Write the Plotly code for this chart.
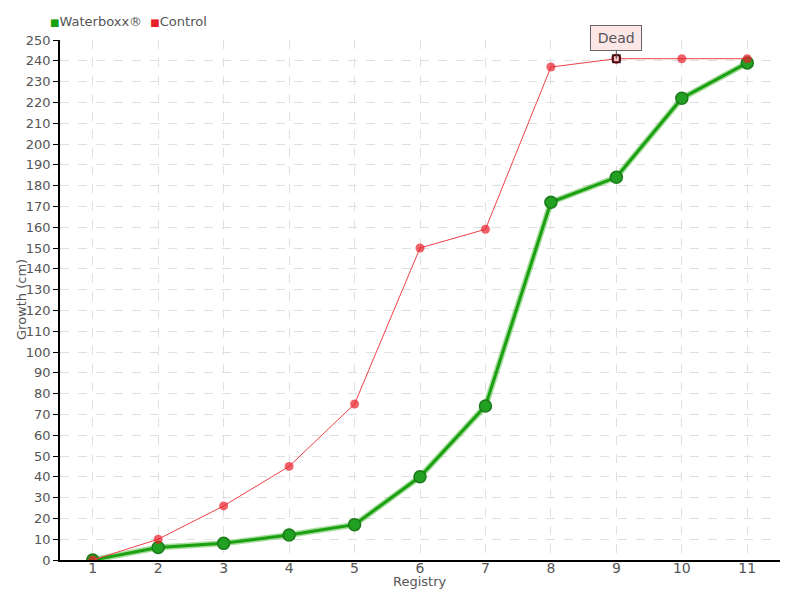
import plotly.graph_objects as go

registry = [1, 2, 3, 4, 5, 6, 7, 8, 9, 10, 11]
waterboxx = [0, 6, 8, 12, 17, 40, 74, 172, 184, 222, 239]
control = [0, 10, 26, 45, 75, 150, 159, 237, 241, 241, 241]
y_ticks = list(range(0, 251, 10))
dead_index = 8
dead_label = "Dead"
series_names = ["Waterboxx®", "Control"]
x_title = "Registry"
y_title = "Growth (cm)"

FONT = "DejaVu Sans, sans-serif"
GREY = "#555555"
GREEN = "#1aa010"
RED = "#e8202a"

ctrl_symbols = ["circle"] * len(registry)
ctrl_symbols[dead_index] = "square"
ctrl_colors = [RED] * len(registry)
ctrl_colors[dead_index] = "white"
ctrl_line_colors = [RED] * len(registry)
ctrl_line_colors[dead_index] = "black"
ctrl_sizes = [9] * len(registry)
ctrl_sizes[dead_index] = 7
ctrl_lw = [0] * len(registry)
ctrl_lw[dead_index] = 2

fig = go.Figure()
# halo for green line
fig.add_trace(go.Scatter(
    x=registry, y=waterboxx, mode="lines",
    line=dict(color="rgba(60,180,40,0.45)", width=6),
    showlegend=False, hoverinfo="skip"))
fig.add_trace(go.Scatter(
    x=registry, y=waterboxx, mode="lines+markers", name=series_names[0],
    line=dict(color=GREEN, width=3), showlegend=False,
    marker=dict(size=12, color="#22a022", symbol="circle",
                line=dict(color="#1a7a1a", width=1.5))))
# red circle behind the dead marker
fig.add_trace(go.Scatter(
    x=[registry[dead_index]], y=[control[dead_index]], mode="markers",
    marker=dict(size=10, color=RED), showlegend=False, hoverinfo="skip"))
fig.add_trace(go.Scatter(
    x=registry, y=control, mode="lines+markers", name=series_names[1],
    line=dict(color="#f0404a", width=1), showlegend=False,
    marker=dict(size=ctrl_sizes, color=ctrl_colors, symbol=ctrl_symbols,
                line=dict(color=ctrl_line_colors, width=ctrl_lw))))

fig.add_annotation(
    x=registry[dead_index], y=control[dead_index], text="&#8201;" + dead_label + "&#8201;",
    showarrow=True, arrowhead=0, arrowwidth=1, arrowcolor="#555555",
    ax=0, ay=-21, bgcolor="#fde6e6", bordercolor="#666666", borderwidth=1,
    borderpad=4, font=dict(family=FONT, size=14, color=GREY))

# compact legend drawn as text
legend_text = (f"<span style='color:{GREEN};font-size:10px'>■</span>{series_names[0]}&nbsp;&nbsp;"
               f"<span style='color:{RED};font-size:10px'>■</span>{series_names[1]}")
fig.add_annotation(xref="paper", yref="paper", x=-0.0167, y=1.0 + 18 / 520,
                   xanchor="left", yanchor="middle", showarrow=False,
                   text=legend_text, font=dict(family=FONT, size=13, color=GREY))

# axis titles
fig.add_annotation(xref="paper", yref="paper", x=0.5, y=-21 / 520,
                   xanchor="center", yanchor="middle", showarrow=False,
                   text=x_title, font=dict(family=FONT, size=13, color=GREY))
fig.add_annotation(xref="paper", yref="paper", x=-39 / 720, y=0.5,
                   xanchor="center", yanchor="middle", showarrow=False, textangle=-90,
                   text=y_title, font=dict(family=FONT, size=13, color=GREY))

fig.update_layout(
    width=800, height=600,
    margin=dict(l=60, r=20, t=40, b=40, autoexpand=False),
    plot_bgcolor="white", paper_bgcolor="white",
    font=dict(family=FONT, size=13, color=GREY),
    showlegend=False,
    xaxis=dict(range=[0.5, 11.5], tickmode="array", tickvals=registry,
               showgrid=True, gridcolor="#e0e0e0", griddash="dash",
               showline=True, linecolor="black", linewidth=1.5,
               zeroline=False, ticks="", tickfont=dict(size=14, color=GREY),
               automargin=False, ticklabelstandoff=-6),
    yaxis=dict(range=[0, 250], tickmode="array", tickvals=y_ticks,
               showgrid=True, gridcolor="#e0e0e0", griddash="dash",
               showline=True, linecolor="black", linewidth=1.5,
               zeroline=False, ticks="outside", ticklen=5, tickcolor="black",
               tickfont=dict(size=13, color=GREY), automargin=False),
)

fig.write_html("out.html", config={"displayModeBar": False},
               post_script="document.body.style.margin='0';")
